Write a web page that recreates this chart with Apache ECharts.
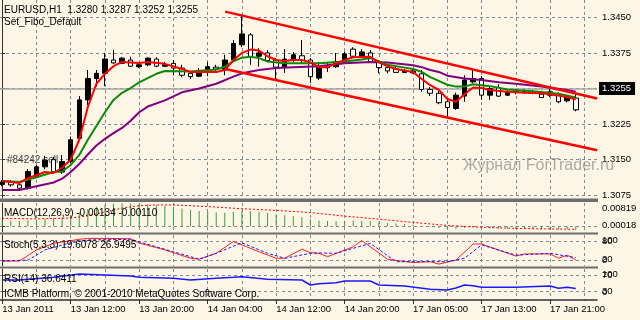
<!DOCTYPE html>
<html><head><meta charset="utf-8">
<script src="https://cdn.jsdelivr.net/npm/echarts@6/dist/echarts.min.js"></script>
<style>html,body{margin:0;padding:0;background:#FDF5E5;}#c{width:640px;height:320px;}</style>
</head><body><div id="c"></div>
<script>
// ---------- DATA ----------
const symbolTitle = 'EURUSD,H1';
const setName = 'Set_Fibo_Default';
const xTickLabels = ['13 Jan 2011','13 Jan 12:00','13 Jan 20:00','14 Jan 04:00','14 Jan 12:00','14 Jan 20:00','17 Jan 05:00','17 Jan 13:00','17 Jan 21:00'];
const labelBars = [0,8,16,24,32,40,48,56,64];
const vGridBars = [0,4,8,12,16,20,24,28,32,36,40,44,48,52,56,60,64,68];
const priceTicks = [1.3075,1.3150,1.3225,1.3300,1.3375,1.3450];

const open = [1.3098,1.3104,1.3097,1.3090,1.3114,1.3135,1.3150,1.3124,1.3146,1.3195,1.3276,1.3321,1.3332,1.3360,1.3353,1.3360,1.3346,1.3350,1.3362,1.3347,1.3353,1.3343,1.3332,1.3326,1.3335,1.3345,1.3339,1.3360,1.3392,1.3413,1.3368,1.3375,1.3360,1.3345,1.3360,1.3369,1.3360,1.3322,1.3344,1.3346,1.3354,1.3383,1.3369,1.3375,1.3356,1.3344,1.3341,1.3334,1.3333,1.3331,1.3298,1.3290,1.3272,1.3258,1.3284,1.3314,1.3321,1.3286,1.3302,1.3286,1.3293,1.3293,1.3292,1.3288,1.3286,1.3286,1.3274,1.3280];
const high = [1.3107,1.3107,1.3101,1.3130,1.3139,1.3158,1.3156,1.3160,1.3199,1.3284,1.3339,1.3339,1.3375,1.3381,1.3366,1.3367,1.3354,1.3366,1.3366,1.3356,1.3360,1.3350,1.3337,1.3343,1.3356,1.3350,1.3371,1.3402,1.3455,1.3417,1.3385,1.3381,1.3364,1.3383,1.3377,1.3402,1.3364,1.3356,1.3356,1.3375,1.3378,1.3387,1.3383,1.3381,1.3360,1.3347,1.3345,1.3341,1.3341,1.3339,1.3303,1.3295,1.3278,1.3291,1.3328,1.3339,1.3326,1.3305,1.3309,1.3299,1.3299,1.3298,1.3297,1.3295,1.3299,1.3292,1.3286,1.3287];
const low = [1.3094,1.3093,1.3088,1.3087,1.3111,1.3130,1.3120,1.3120,1.3143,1.3192,1.3265,1.3304,1.3305,1.3352,1.3352,1.3345,1.3343,1.3347,1.3345,1.3345,1.3328,1.3324,1.3320,1.3324,1.3326,1.3337,1.3328,1.3356,1.3387,1.3350,1.3346,1.3356,1.3318,1.3333,1.3356,1.3354,1.3312,1.3318,1.3335,1.3343,1.3352,1.3364,1.3366,1.3354,1.3332,1.3332,1.3333,1.3333,1.3331,1.3293,1.3284,1.3267,1.3241,1.3255,1.3272,1.3312,1.3276,1.3276,1.3282,1.3284,1.3288,1.3289,1.3288,1.3280,1.3282,1.3269,1.3271,1.3252];
const close = [1.3103,1.3097,1.3090,1.3125,1.3135,1.3149,1.3125,1.3146,1.3192,1.3276,1.3321,1.3332,1.3362,1.3354,1.3364,1.3347,1.3350,1.3364,1.3347,1.3350,1.3343,1.3328,1.3325,1.3338,1.3346,1.3341,1.3360,1.3395,1.3415,1.3367,1.3375,1.3359,1.3345,1.3362,1.3371,1.3359,1.3325,1.3347,1.3347,1.3356,1.3373,1.3368,1.3377,1.3356,1.3344,1.3337,1.3334,1.3337,1.3337,1.3298,1.3290,1.3270,1.3260,1.3286,1.3318,1.3321,1.3286,1.3300,1.3284,1.3293,1.3294,1.3294,1.3293,1.3281,1.3293,1.3272,1.3281,1.3255];

// moving averages, read at selected bars (null = not read)
const maFast = [1.3105,null,1.3101,1.3111,null,1.3124,1.3122,1.3133,1.3150,1.3192,1.3261,1.3310,1.3331,1.3347,1.3356,null,1.3354,1.3356,null,1.3352,null,1.3341,1.3335,null,null,1.3335,1.3339,1.3360,1.3375,1.3382,1.3380,1.3368,1.3360,1.3358,1.3360,1.3360,1.3355,1.3345,1.3345,1.3353,1.3360,1.3366,null,1.3367,1.3355,1.3347,1.3341,null,1.3335,1.3320,1.3307,1.3297,1.3278,1.3272,1.3288,1.3302,1.3301,1.3297,null,1.3293,null,1.3291,null,1.3290,1.3288,null,1.3282,1.3277];
const maMid = [1.3105,null,1.3103,null,1.3113,null,1.3124,1.3125,1.3139,1.3160,1.3192,1.3221,1.3250,1.3276,1.3291,1.3301,1.3313,1.3322,1.3331,1.3337,null,null,1.3336,null,null,1.3340,1.3346,1.3357,1.3365,1.3367,1.3364,1.3357,null,1.3353,null,null,null,1.3353,null,null,1.3357,null,1.3361,1.3364,null,1.3350,null,1.3344,1.3341,1.3335,1.3324,1.3316,1.3308,1.3304,1.3304,1.3309,1.3307,1.3305,null,1.3298,null,null,1.3294,null,null,1.3289,null,1.3281];
const maSlow = [1.3086,null,1.3086,null,1.3094,null,1.3102,1.3110,1.3124,1.3141,1.3161,1.3180,1.3194,1.3206,1.3217,1.3232,1.3250,1.3262,null,1.3275,null,1.3292,null,1.3300,null,1.3310,null,1.3325,1.3332,null,1.3339,null,1.3343,null,1.3345,null,null,1.3347,null,null,1.3353,null,null,1.3356,null,1.3355,null,null,1.3349,1.3345,1.3339,1.3335,1.3327,null,1.3321,null,1.3318,null,1.3313,null,1.3310,null,null,1.3304,null,null,1.3297,1.3293];

// channel lines: [bar, price]
const channelUpper = [[26.05,1.3462],[69.5,1.3279]];
const channelLower = [[26.05,1.3341],[69.5,1.3170]];

const macdHist = [0.0020,0.0020,0.0019,0.0021,0.0024,0.0028,0.0030,0.0032,0.0038,0.0050,0.0062,0.0071,0.0078,0.0082,0.0084,0.0083,0.0081,0.0080,0.0077,0.0074,0.0070,0.0065,0.0060,0.0056,0.0053,0.0050,0.0049,0.0052,0.0058,0.0055,0.0052,0.0048,0.0043,0.0040,0.0037,0.0033,0.0026,0.0021,0.0019,0.0018,0.0019,0.0020,0.0020,0.0018,0.0015,0.0012,0.0010,0.0008,0.0006,0.0002,-0.0002,-0.0006,-0.0010,-0.0010,-0.0006,-0.0004,-0.0006,-0.0007,-0.0008,-0.0009,-0.0009,-0.0010,-0.0010,-0.0011,-0.0011,-0.0012,-0.0012,-0.00134];
const macdSignal = [0.0029,null,null,null,0.0027,null,null,null,0.0030,null,0.0038,null,0.0052,null,0.0066,null,0.0075,null,0.0078,null,0.0078,null,null,null,0.0072,null,null,null,0.0064,null,null,null,0.0058,null,null,null,0.0050,null,null,null,0.0037,null,null,null,0.0026,null,null,null,0.0014,null,null,null,0.0003,null,null,null,-0.0004,null,null,null,-0.0008,null,null,null,-0.0010,null,null,-0.0011];
const macdTopLabel = 0.00819;
const macdLowLabels = [0, 0.00018];

const stochMain = [16,null,16,null,52,null,73,null,null,86,89,null,89,null,null,88,74,null,null,52,null,null,25,22,null,41,null,79,null,null,46,null,25,25,null,54,43,41,30,null,null,62,82,null,null,22,null,null,11,null,14,6,null,19,null,71,71,null,null,null,32,39,null,null,39,25,35,19.6078];
const stochSignal = [16,null,null,19,null,52,null,null,75,null,84,null,null,null,null,86,78,null,null,null,46,null,null,22,null,41,null,null,75,null,null,41,null,25,null,null,41,42,null,41,null,null,null,73,null,null,14,null,null,null,null,null,14,null,25,null,68,null,null,null,35,null,null,null,41,null,null,26.9495];
const stochLevels = [20, 80];
const stochBounds = [0, 100];

const rsi = [58.8,null,58.8,null,null,null,65.8,null,null,74.4,null,null,71.8,null,null,69.2,65.8,null,null,null,63.2,null,58.8,null,null,63.2,null,65.8,67.4,null,null,60.6,null,null,null,58.8,45.7,49,null,51.7,56.1,null,null,56.1,45.7,null,null,43.1,null,null,34.4,null,32.6,38,45.7,44,39.7,null,null,null,39.7,null,null,null,43.1,37.1,39.7,36.6411];
const rsiLevels = [30, 70];
const rsiBoundLabels = ['0', '100'];

// ---------- CHART ----------
const FONT = '"Liberation Sans", Arial, sans-serif';
const BG = '#FDF5E5';
const GRIDC = '#7e8a97';
const AXC = '#303030';
const XMIN = -0.26, XMAX = 69.48;
const RSI_MIN = 6.5, RSI_MAX = 87.5;
const MACD_MIN = -0.0021, MACD_MAX = 0.0085;
const last = close.length - 1;

const pts = arr => arr.map((v, i) => v == null ? null : [i, v]).filter(Boolean);
const dash = {show: true, lineStyle: {color: GRIDC, type: [3, 3], width: 1}};
const lbl = {fontFamily: FONT, fontSize: 9.5, color: '#000'};

function xAx(g, extra) {
  return Object.assign({type: 'value', gridIndex: g, position: 'bottom', min: XMIN, max: XMAX,
    axisLine: {show: false}, axisTick: {show: false, customValues: vGridBars},
    axisLabel: {show: false}, splitLine: dash}, extra || {});
}
function yAx(g, min, max, extra) {
  return Object.assign({type: 'value', gridIndex: g, position: 'right', min: min, max: max, scale: true,
    axisLine: {show: true, lineStyle: {color: AXC, width: 1}},
    axisTick: {show: true, length: 3, lineStyle: {color: AXC}},
    splitLine: dash}, extra || {});
}

const chart = echarts.init(document.getElementById('c'), null, {renderer: 'canvas'});
const candles = open.map((o, i) => [i, o, close[i], low[i], high[i]]);
const titleText = symbolTitle + '  ' + [open[last], high[last], low[last], close[last]].map(v => v.toFixed(4)).join(' ');

const option = {
  animation: false,
  backgroundColor: BG,
  textStyle: {fontFamily: FONT},
  grid: [
    {left: 0, top: 0, width: 597, height: 198, outerBoundsMode: 'none'},
    {left: 0, top: 203, width: 597, height: 29, outerBoundsMode: 'none'},
    {left: 0, top: 235, width: 597, height: 31, outerBoundsMode: 'none'},
    {left: 0, top: 269, width: 597, height: 31, outerBoundsMode: 'none'}
  ],
  xAxis: [
    xAx(0), xAx(1), xAx(2),
    xAx(3, {axisLine: {show: true, onZero: false, lineStyle: {color: AXC, width: 1.5}}}),
    xAx(3, {position: 'bottom', offset: 0, splitLine: {show: false},
      axisLine: {show: false, onZero: false},
      axisTick: {show: true, length: 4, customValues: labelBars, lineStyle: {color: AXC}},
      axisLabel: Object.assign({show: true, customValues: labelBars, align: 'left', margin: 4,
        formatter: v => xTickLabels[labelBars.indexOf(Math.round(v))] || ''}, lbl)})
  ],
  yAxis: [
    yAx(0, 1.30693, 1.34865, {
      axisTick: {show: true, length: 3, customValues: priceTicks, lineStyle: {color: AXC}},
      axisLabel: Object.assign({customValues: priceTicks, margin: 5, formatter: v => v.toFixed(4)}, lbl)}),
    yAx(1, MACD_MIN, MACD_MAX, {
      axisTick: {show: true, length: 3, customValues: [0], lineStyle: {color: AXC}},
      axisLabel: Object.assign({customValues: [macdTopLabel], margin: 5, verticalAlign: 'top', formatter: v => v.toFixed(5)}, lbl)}),
    yAx(1, MACD_MIN, MACD_MAX, {axisLine: {show: false}, axisTick: {show: false, customValues: [0]}, splitLine: {show: false},
      axisLabel: Object.assign({customValues: macdLowLabels, margin: 5, formatter: v => v.toFixed(5)}, lbl)}),
    yAx(2, stochBounds[0], stochBounds[1], {
      axisTick: {show: true, length: 3, customValues: stochLevels, lineStyle: {color: AXC}},
      axisLabel: Object.assign({customValues: stochLevels, margin: 5, formatter: v => String(v)}, lbl)}),
    yAx(2, stochBounds[0], stochBounds[1], {axisLine: {show: false}, axisTick: {show: false, customValues: stochLevels}, splitLine: {show: false},
      axisLabel: Object.assign({customValues: stochBounds, margin: 5,
        formatter: v => v >= stochBounds[1] ? '{t|' + v + '}' : '{b|' + v + '}',
        rich: {t: Object.assign({padding: [11, 0, 0, 0]}, lbl), b: Object.assign({padding: [0, 0, 11, 0]}, lbl)}}, lbl)}),
    yAx(3, RSI_MIN, RSI_MAX, {
      axisTick: {show: true, length: 3, customValues: rsiLevels, lineStyle: {color: AXC}},
      axisLabel: Object.assign({customValues: rsiLevels, margin: 5, formatter: v => String(v)}, lbl)}),
    yAx(3, RSI_MIN, RSI_MAX, {axisLine: {show: false}, axisTick: {show: false, customValues: rsiLevels}, splitLine: {show: false},
      axisLabel: Object.assign({customValues: [RSI_MIN, RSI_MAX], margin: 5,
        formatter: v => v >= RSI_MAX ? '{t|' + rsiBoundLabels[1] + '}' : '{b|' + rsiBoundLabels[0] + '}',
        rich: {t: Object.assign({padding: [11, 0, 0, 0]}, lbl), b: Object.assign({padding: [0, 0, 16, 0]}, lbl)}}, lbl)})
  ],
  series: [
    {type: 'candlestick', xAxisIndex: 0, yAxisIndex: 0, data: candles, barWidth: 5, z: 3,
      itemStyle: {color: '#000000', color0: '#ffffff', borderColor: '#000000', borderColor0: '#000000', borderColorDoji: '#000000', borderWidth: 1},
      markLine: {silent: true, symbol: ['none', 'none'], animation: false, z: 1,
        lineStyle: {color: '#a6a6a6', type: 'solid', width: 1.5},
        label: {show: true, position: 'end', distance: 2, formatter: () => close[last].toFixed(4),
          color: '#ffffff', backgroundColor: '#000000', padding: [2, 4, 1, 3], fontFamily: FONT, fontSize: 9.5},
        data: [{yAxis: close[last]}]}},
    {type: 'line', xAxisIndex: 0, yAxisIndex: 0, data: pts(maSlow), showSymbol: false, z: 4, lineStyle: {color: '#800080', width: 2}},
    {type: 'line', xAxisIndex: 0, yAxisIndex: 0, data: pts(maMid), showSymbol: false, z: 4, lineStyle: {color: '#0a8a0a', width: 2}},
    {type: 'line', xAxisIndex: 0, yAxisIndex: 0, data: pts(maFast), showSymbol: false, z: 4, lineStyle: {color: '#ff0000', width: 2}},
    {type: 'line', xAxisIndex: 0, yAxisIndex: 0, data: channelUpper, showSymbol: false, z: 5, lineStyle: {color: '#ff0000', width: 2.5}},
    {type: 'line', xAxisIndex: 0, yAxisIndex: 0, data: channelLower, showSymbol: false, z: 5, lineStyle: {color: '#ff0000', width: 2.5}},
    {type: 'bar', xAxisIndex: 1, yAxisIndex: 1, data: pts(macdHist), barWidth: 1, itemStyle: {color: '#3a9e3a'}},
    {type: 'line', xAxisIndex: 1, yAxisIndex: 1, data: pts(macdSignal), showSymbol: false, lineStyle: {color: '#ff0000', width: 1, type: [2, 2]}},
    {type: 'line', xAxisIndex: 2, yAxisIndex: 3, data: pts(stochMain), showSymbol: false, lineStyle: {color: '#ff2020', width: 1}},
    {type: 'line', xAxisIndex: 2, yAxisIndex: 3, data: pts(stochSignal), showSymbol: false, lineStyle: {color: '#1a1aff', width: 1, type: [3, 2]}},
    {type: 'line', xAxisIndex: 3, yAxisIndex: 5, data: pts(rsi), showSymbol: false, lineStyle: {color: '#1a1aff', width: 1.5}}
  ],
  graphic: [
    {type: 'rect', silent: true, z: 50, shape: {x: 0, y: 198.5, width: 598, height: 3.5}, style: {fill: '#6e6e6e'}},
    {type: 'rect', silent: true, z: 50, shape: {x: 0, y: 232.5, width: 598, height: 2}, style: {fill: '#6e6e6e'}},
    {type: 'rect', silent: true, z: 50, shape: {x: 0, y: 266.5, width: 598, height: 2}, style: {fill: '#6e6e6e'}},
    {type: 'text', silent: true, z: 60, x: 4, y: 10, style: {text: titleText, font: '10px ' + FONT, fill: '#000', verticalAlign: 'middle'}},
    {type: 'text', silent: true, z: 60, x: 4, y: 22, style: {text: setName, font: '10px ' + FONT, fill: '#000', verticalAlign: 'middle'}},
    {type: 'text', silent: true, z: 0, x: 7, y: 160, style: {text: '#84242 sell', font: '10px ' + FONT, fill: '#404040', verticalAlign: 'middle'}},
    {type: 'text', silent: true, z: 60, x: 4, y: 213, style: {text: 'MACD(12,26,9) ' + macdHist[last].toFixed(5) + ' ' + macdSignal[last].toFixed(5), font: '10px ' + FONT, fill: '#000', verticalAlign: 'middle'}},
    {type: 'text', silent: true, z: 60, x: 4, y: 245.5, style: {text: 'Stoch(5,3,3) ' + stochMain[last].toFixed(4) + ' ' + stochSignal[last].toFixed(4), font: '10px ' + FONT, fill: '#000', verticalAlign: 'middle'}},
    {type: 'text', silent: true, z: 60, x: 4, y: 279, style: {text: 'RSI(14) ' + rsi[last].toFixed(4), font: '10px ' + FONT, fill: '#000', verticalAlign: 'middle'}},
    {type: 'text', silent: true, z: 60, x: 4, y: 294, style: {text: 'ICMB Platform, © 2001-2010 MetaQuotes Software Corp.', font: '10px ' + FONT, fill: '#000', verticalAlign: 'middle'}},
    {type: 'text', silent: true, z: 100, x: 463, y: 166, style: {text: 'Журнал ForTrader.ru', font: '16px ' + FONT, fill: 'rgba(140,140,140,0.7)', verticalAlign: 'middle'}}
  ]
};
chart.setOption(option);
</script>
</body></html>
